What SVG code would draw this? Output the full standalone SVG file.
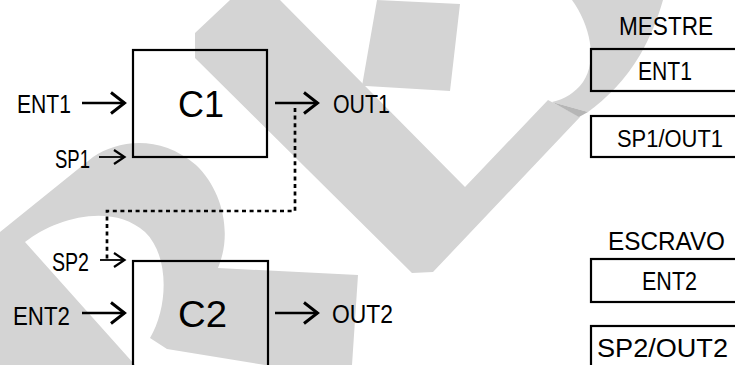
<svg xmlns="http://www.w3.org/2000/svg" width="735" height="365" viewBox="0 0 735 365">
  <style>
    .wm { fill: #d4d4d4; stroke: none; }
    .wm-dark { fill: #b6b6b6; stroke: none; }
    .box { fill: none; stroke: #000; stroke-width: 2.2; }
    .lbl { font-family: "Liberation Sans", Arial, sans-serif; fill: #000; }
    .big { font-size: 37px; }
    .mid { font-size: 25px; }
    .hdr { font-size: 26px; }
    .flow { fill: none; stroke: #000; stroke-width: 2.4; }
    .thin { fill: none; stroke: #000; stroke-width: 1.8; }
    .dotted { fill: none; stroke: #000; stroke-width: 2.7; stroke-dasharray: 4 3.6; }
  </style>
  <defs>
    <marker id="headBig" markerUnits="userSpaceOnUse" viewBox="0 0 18 24" markerWidth="18" markerHeight="24" refX="15.5" refY="12" orient="auto">
      <path d="M1.5,1.5 L15,12 L1.5,22.5" fill="none" stroke="#000" stroke-width="3" stroke-linejoin="miter"/>
    </marker>
    <marker id="headSmall" markerUnits="userSpaceOnUse" viewBox="0 0 14 18" markerWidth="14" markerHeight="18" refX="12" refY="9" orient="auto">
      <path d="M1,2 L11.5,9 L1,16" fill="none" stroke="#000" stroke-width="2.2" stroke-linejoin="miter"/>
    </marker>
  </defs>

  <rect width="735" height="365" fill="#fff"/>

  <!-- background mark: ring with tail, check-mark and arc -->
  <g id="background-mark">
    <path class="wm" fill-rule="evenodd" d="M0,232 L93,157 C118,140 160,134 196,165 C222,190 233,232 218,268 L358,275 L352,365 L0,365 Z
      M25,242 C55,218 112,202 145,232 C170,256 168,308 150,338 L167,349 L265,365 L135,365 Z"/>
    <path class="wm" d="M230,0 L280,0 L465,187 L548,100 L580,117 L433,272 L412,273 L195,58 L195,33 Z"/>
    <path class="wm" d="M377,0 L460,4 L450,91 L366,86 L362,86 Z"/>
    <path class="wm" d="M572,0 C590,25 598,60 583,82 C575,93 565,99 552,102 L588,112 C606,99 626,79 640,55 C650,38 658,18 663,0 Z"/>
    <path class="wm-dark" d="M552,102 L588,112 L579,117 Z"/>
  </g>

  <!-- controllers -->
  <g id="c1">
    <rect class="box" x="133" y="50" width="134" height="107"/>
    <text class="lbl big" x="178" y="117" textLength="46" lengthAdjust="spacingAndGlyphs">C1</text>
  </g>
  <g id="c2">
    <rect class="box" x="133" y="261" width="135" height="110"/>
    <text class="lbl big" x="178" y="327" textLength="49" lengthAdjust="spacingAndGlyphs">C2</text>
  </g>

  <!-- signal connectors -->
  <g id="connectors">
    <line class="flow" x1="82" y1="103" x2="125" y2="103" marker-end="url(#headBig)"/>
    <line class="thin" x1="99" y1="157" x2="125" y2="157" marker-end="url(#headSmall)"/>
    <line class="flow" x1="275" y1="103" x2="318" y2="103" marker-end="url(#headBig)"/>
    <path class="dotted" d="M295,108 V211 H107 V259"/>
    <line class="thin" x1="100" y1="260" x2="125" y2="260" marker-end="url(#headSmall)"/>
    <line class="flow" x1="82" y1="313" x2="125" y2="313" marker-end="url(#headBig)"/>
    <line class="flow" x1="275" y1="313" x2="318" y2="313" marker-end="url(#headBig)"/>
  </g>

  <!-- signal names -->
  <g id="signal-labels">
    <text class="lbl mid" x="17" y="113" textLength="54" lengthAdjust="spacingAndGlyphs">ENT1</text>
    <text class="lbl mid" x="55" y="168" textLength="35" lengthAdjust="spacingAndGlyphs">SP1</text>
    <text class="lbl mid" x="333" y="113" textLength="57" lengthAdjust="spacingAndGlyphs">OUT1</text>
    <text class="lbl mid" x="52" y="271" textLength="37" lengthAdjust="spacingAndGlyphs">SP2</text>
    <text class="lbl mid" x="13" y="325" textLength="57" lengthAdjust="spacingAndGlyphs" font-size="27">ENT2</text>
    <text class="lbl mid" x="332" y="323" textLength="61" lengthAdjust="spacingAndGlyphs">OUT2</text>
  </g>

  <!-- master table -->
  <g id="mestre">
    <text class="lbl hdr" x="619" y="35" textLength="94" lengthAdjust="spacingAndGlyphs">MESTRE</text>
  </g>
  <g id="mestre-ent1">
    <rect class="box" x="591" y="49" width="160" height="42"/>
    <text class="lbl mid" x="638" y="80" textLength="54" lengthAdjust="spacingAndGlyphs">ENT1</text>
  </g>
  <g id="mestre-sp1-out1">
    <rect class="box" x="591" y="116" width="160" height="41"/>
    <text class="lbl" x="617" y="147" textLength="106" lengthAdjust="spacingAndGlyphs" font-size="23.5">SP1/OUT1</text>
  </g>

  <!-- slave table -->
  <g id="escravo">
    <text class="lbl" x="608" y="250" textLength="117" lengthAdjust="spacingAndGlyphs" font-size="25">ESCRAVO</text>
  </g>
  <g id="escravo-ent2">
    <rect class="box" x="591" y="259" width="160" height="43"/>
    <text class="lbl" x="642" y="290" textLength="55" lengthAdjust="spacingAndGlyphs" font-size="26">ENT2</text>
  </g>
  <g id="escravo-sp2-out2">
    <rect class="box" x="591" y="326" width="160" height="50"/>
    <text class="lbl" x="597" y="357" textLength="131" lengthAdjust="spacingAndGlyphs" font-size="26.5">SP2/OUT2</text>
  </g>
</svg>
